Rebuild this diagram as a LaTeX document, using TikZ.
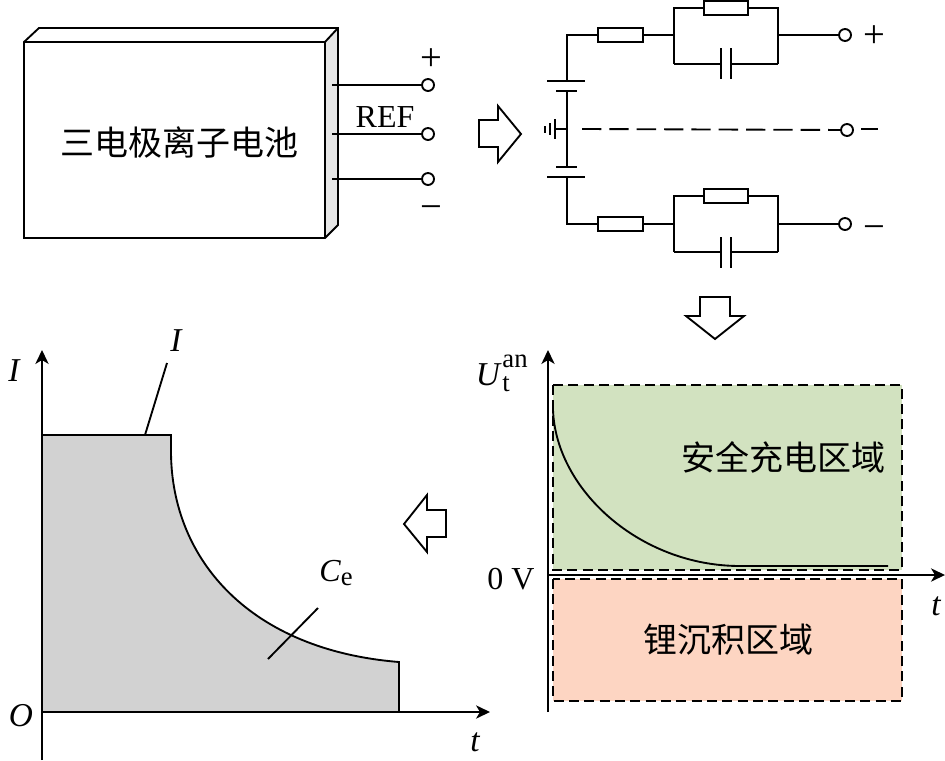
\documentclass[tikz,border=0pt]{standalone}
\usepackage{fontspec}
\setmainfont{Liberation Serif}
\newfontfamily\cjk{Noto Sans CJK SC}
\usetikzlibrary{arrows.meta}
\definecolor{zonegreen}{HTML}{D2E2C0}
\definecolor{zonered}{HTML}{FDD5C2}
\definecolor{areagray}{HTML}{D2D2D2}
\definecolor{sidegray}{HTML}{E6E6E6}
\tikzset{
  x=0.75pt,y=-0.75pt,
  wire/.style={line width=1.4pt,black},
  axis/.style={line width=1.1pt,-{Stealth[length=10.5pt,width=10pt,inset=3pt]}},
  terminal/.style={circle,draw,line width=1.4pt,fill=white,inner sep=0pt,minimum size=9pt},
  resistor/.style={rectangle,draw,line width=1.4pt,fill=white,inner sep=0pt,minimum width=33.5pt,minimum height=11pt},
  hollow/.style={draw,line width=1.4pt,fill=white,line join=miter},
  zone/.style={line width=0.95pt,dash pattern=on 7.5pt off 4pt},
  lbl/.style={inner sep=0pt,font=\fontsize{24}{24}\selectfont},
  ital/.style={inner sep=0pt,font=\itshape\fontsize{25}{25}\selectfont},
  sgn/.style={inner sep=0pt,font=\fontsize{29}{29}\selectfont},
  sym/.style={inner sep=0pt,font=\fontsize{20}{20}\selectfont},
  cn/.style={inner sep=0pt,font=\cjk\fontsize{25.5}{26}\selectfont},
}
\begin{document}
\begin{tikzpicture}
\useasboundingbox (0,0) rectangle (945,760);
% ---------- cell block
\fill[sidegray] (325,42) -- (338,28) -- (338,225) -- (325,238) -- cycle;
\draw[wire,line join=miter] (24,42) -- (39,28) -- (338,28) -- (338,225) -- (325,238) -- (24,238) -- cycle;
\draw[wire] (24,42) -- (325,42) -- (325,238);
\draw[wire] (325,42) -- (338,28);
\node[cn] (cell) at (179,142) {三电极离子电池};
\coordinate (s1) at (332,85);
\coordinate (s2) at (332,134);
\coordinate (s3) at (332,179);
\node[terminal] (t1) at (428,85) {};
\node[terminal] (t2) at (428,134) {};
\node[terminal] (t3) at (428,179) {};
\draw[wire] (s1) -- (t1);
\draw[wire] (s2) -- (t2);
\draw[wire] (s3) -- (t3);
\node[lbl] (ref) at (385,117) {REF};
\node[sgn] (cellplus) at (431,60) {+};
\node[sgn] (cellminus) at (431,213) {−};
% ---------- hollow arrows
\draw[hollow] (479,120) -- (498,120) -- (498,106) -- (521,134) -- (498,162) -- (498,147) -- (479,147) -- cycle;
\draw[hollow] (700,297) -- (730,297) -- (730,316) -- (744,316) -- (715,339) -- (686,316) -- (700,316) -- cycle;
\draw[hollow] (446,510) -- (427,510) -- (427,495) -- (404,524) -- (427,552) -- (427,537) -- (446,537) -- cycle;
% ---------- circuit upper
\coordinate (b1) at (567,81);
\coordinate (c1) at (567,35);
\coordinate (ja) at (674,35);
\coordinate (jb) at (778,35);
\coordinate (ua) at (674,8);
\coordinate (ub) at (778,8);
\coordinate (la) at (674,64);
\coordinate (lb) at (778,64);
\coordinate (ca1) at (721,64);
\coordinate (ca2) at (731,64);
\node[resistor] (r1) at (620.5,35) {};
\node[resistor] (r2) at (726,8) {};
\node[terminal] (tp) at (845,35) {};
\draw[wire] (b1) -- (c1) -- (r1);
\draw[wire] (r1) -- (ja);
\draw[wire] (la) -- (ua) -- (r2) -- (ub) -- (lb);
\draw[wire] (la) -- (ca1);
\draw[wire] (lb) -- (ca2);
\draw[wire] (721,48) -- (721,79);
\draw[wire] (731,48) -- (731,79);
\draw[wire] (jb) -- (tp);
\node[sgn] (plus) at (874,37) {+};
% ---------- circuit lower
\coordinate (b2) at (567,177);
\coordinate (c2) at (567,224);
\coordinate (jc) at (674,224);
\coordinate (jd) at (778,224);
\coordinate (uc) at (674,196);
\coordinate (ud) at (778,196);
\coordinate (lc) at (674,252);
\coordinate (ld) at (778,252);
\coordinate (cb1) at (721,252);
\coordinate (cb2) at (731,252);
\node[resistor] (r3) at (620.5,224) {};
\node[resistor] (r4) at (726,196) {};
\node[terminal] (tm) at (845,224) {};
\draw[wire] (b2) -- (c2) -- (r3);
\draw[wire] (r3) -- (jc);
\draw[wire] (lc) -- (uc) -- (r4) -- (ud) -- (ld);
\draw[wire] (lc) -- (cb1);
\draw[wire] (ld) -- (cb2);
\draw[wire] (721,237) -- (721,268);
\draw[wire] (731,237) -- (731,268);
\draw[wire] (jd) -- (tm);
\node[sgn] (minus) at (874,233) {−};
% ---------- battery and ground
\draw[wire] (547,81) -- (585,81);
\draw[wire] (556,91) -- (577,91);
\draw[wire] (556,167) -- (577,167);
\draw[wire] (547,177) -- (585,177);
\draw[wire] (567,91) -- (567,167);
\draw[wire] (567,129) -- (555,129);
\draw[wire] (555,119) -- (555,139);
\draw[wire] (550,123) -- (550,135);
\draw[wire] (545,126) -- (545,133);
\node[terminal] (tr) at (847,130) {};
\coordinate (dstart) at (582,129);
\draw[wire,dash pattern=on 14.5pt off 6pt] (dstart) -- (tr);
\draw[wire] (861,129) -- (878,129);
% ---------- voltage chart
\fill[zonegreen] (553,385) rectangle (902,570);
\fill[zonered] (553,579) rectangle (902,701);
\draw[zone] (553,385) rectangle (902,570);
\draw[zone] (553,579) rectangle (902,701);
\draw[line width=1.4pt] (553,405) -- (553,410) .. controls (556,490) and (640,566) .. (740,566) -- (888,566);
\draw[axis] (548,712) -- (548,350);
\draw[axis] (548,575) -- (945,575);
\node[ital] (ulab) at (488,375) {U};
\node[sym] (usup) at (515,361) {an};
\node[sym] (usub) at (506,384) {t};
\node[lbl] (zero) at (511,579) {0 V};
\node[ital] (tright) at (936,606) {t};
\node[cn] (safe) at (783,457) {安全充电区域};
\node[cn] (li) at (728,640) {锂沉积区域};
% ---------- current chart
\fill[areagray] (42,435) -- (171,435) -- (171,453) .. controls (172,560) and (250,650) .. (399,662) -- (399,712) -- (42,712) -- cycle;
\draw[wire,line join=miter] (42,712) -- (42,435) -- (171,435) -- (171,453) .. controls (172,560) and (250,650) .. (399,662) -- (399,712) -- cycle;
\draw[axis] (42,760) -- (42,350);
\draw[axis] (42,712) -- (490,712);
\coordinate (ia) at (145,435);
\coordinate (ib) at (167,363);
\draw[wire] (ia) -- (ib);
\coordinate (ca) at (268,659);
\coordinate (cb) at (318,608);
\draw[wire] (ca) -- (cb);
\node[ital] (ileft) at (14,371) {I};
\node[ital] (itop) at (176,341) {I};
\node[ital] (olab) at (21,716) {O};
\node[ital] (tbottom) at (475,742) {t};
\node[lbl] (celab) at (336,573) {\textit{C}\raisebox{-3.5pt}{\fontsize{20}{20}\selectfont e}};
\end{tikzpicture}
\end{document}
